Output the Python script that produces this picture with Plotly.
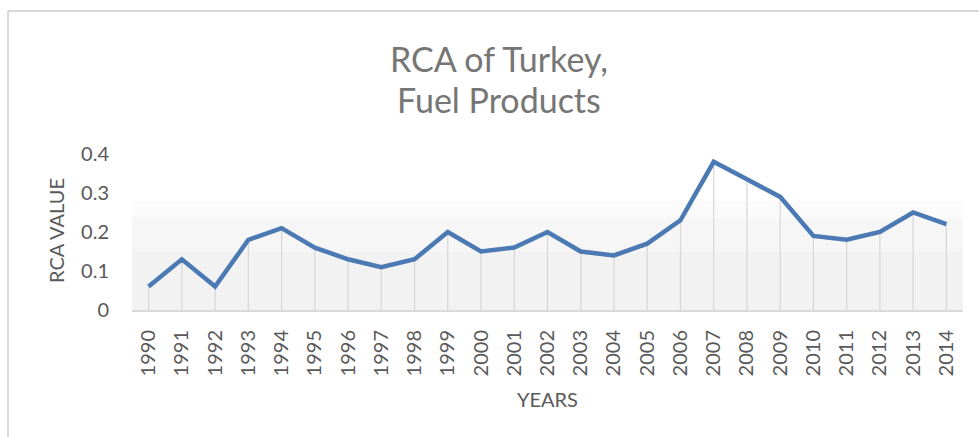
import plotly.graph_objects as go

years = [str(y) for y in range(1990, 2015)]
rca = [0.06, 0.13, 0.06, 0.18, 0.21, 0.16, 0.13, 0.11, 0.13, 0.20,
       0.15, 0.16, 0.20, 0.15, 0.14, 0.17, 0.23, 0.38, 0.335, 0.29,
       0.19, 0.18, 0.20, 0.25, 0.22]
y_ticks = [0, 0.1, 0.2, 0.3, 0.4]
y_tick_labels = ["0", "0.1", "0.2", "0.3", "0.4"]

W, H = 979, 437
L, R, T, B = 132, 16, 154, 127
pw, ph = W - L - R, H - T - B

def px_x(p):
    return (p - L) / pw

def px_y(p):
    return (H - B - p) / ph

FONT = "Lato"
TXT = "#595959"

fig = go.Figure()
fig.add_trace(go.Scatter(
    x=years, y=rca, mode="lines",
    line=dict(color="#4a79b4", width=4.5),
    error_y=dict(type="data", symmetric=False, array=[0] * len(rca), arrayminus=rca,
                 color="#d6d6d6", thickness=1.2, width=0),
    hoverinfo="x+y", showlegend=False,
))

shapes = [
    dict(type="rect", xref="paper", yref="y", x0=0, x1=1, y0=0, y1=0.28,
         fillcolor="#fbfbfb", line=dict(width=0), layer="below"),
    dict(type="rect", xref="paper", yref="y", x0=0, x1=1, y0=0, y1=0.235,
         fillcolor="#f6f6f6", line=dict(width=0), layer="below"),
    dict(type="rect", xref="paper", yref="y", x0=0, x1=1, y0=0, y1=0.15,
         fillcolor="#f2f2f2", line=dict(width=0), layer="below"),
    dict(type="line", xref="paper", yref="paper", x0=px_x(8), x1=px_x(980),
         y0=px_y(11), y1=px_y(11), line=dict(color="#d9d9d9", width=2)),
    dict(type="line", xref="paper", yref="paper", x0=px_x(8), x1=px_x(8),
         y0=px_y(11), y1=px_y(440), line=dict(color="#d9d9d9", width=2)),
]

fig.update_layout(
    width=W, height=H,
    margin=dict(l=L, r=R, t=T, b=B, pad=0),
    paper_bgcolor="white", plot_bgcolor="white",
    font=dict(family=FONT, color=TXT),
    shapes=shapes,
    annotations=[
        dict(text="RCA of Turkey,", xref="paper", yref="paper", x=px_x(499), y=px_y(58),
             showarrow=False, font=dict(size=34, color="#767676", family=FONT),
             xanchor="center", yanchor="middle"),
        dict(text="Fuel Products", xref="paper", yref="paper", x=px_x(499), y=px_y(100),
             showarrow=False, font=dict(size=34, color="#767676", family=FONT),
             xanchor="center", yanchor="middle"),
        dict(text="YEARS", xref="paper", yref="paper", x=px_x(547), y=px_y(399),
             showarrow=False, font=dict(size=20, color=TXT, family=FONT),
             xanchor="center", yanchor="middle"),
        dict(text="RCA VALUE", xref="paper", yref="paper", x=px_x(56), y=px_y(231),
             showarrow=False, textangle=-90, font=dict(size=20, color=TXT, family=FONT),
             xanchor="center", yanchor="middle"),
    ],
    xaxis=dict(
        type="category", range=[-0.5, len(years) - 0.5],
        tickangle=-90, tickfont=dict(size=20, color=TXT),
        showgrid=False, showline=True, linecolor="#d9d9d9", linewidth=2,
        ticks="", ticklabelstandoff=10, automargin=False,
        fixedrange=True,
    ),
    yaxis=dict(
        range=[0, 0.4], tickvals=y_ticks, ticktext=y_tick_labels,
        tickfont=dict(size=20, color=TXT),
        showgrid=False, zeroline=False, showline=False, ticks="",
        ticklabelstandoff=22, automargin=False,
        fixedrange=True,
    ),
)

fig.write_html("out.html", config={"displayModeBar": False},
               post_script="document.body.style.margin='0';")
